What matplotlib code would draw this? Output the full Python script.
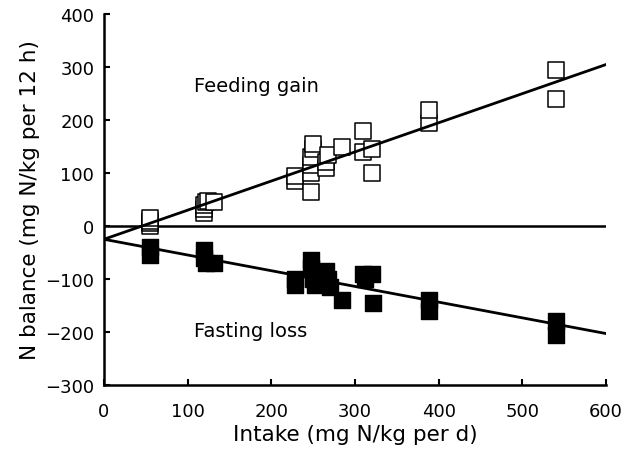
import matplotlib.pyplot as plt

plt.rcParams['font.family'] = ['DejaVu Sans']

# feeding gain (open squares)
gain_x = [55, 55, 55, 55, 120, 120, 120, 122, 124, 132,
          228, 228, 248, 248, 248, 248, 250, 250, 265, 265, 268,
          285, 310, 310, 320, 320, 388, 388, 540, 540]
gain_y = [0, 5, 10, 15, 25, 32, 40, 45, 48, 45,
          85, 95, 65, 100, 115, 130, 145, 155, 110, 120, 135,
          150, 140, 180, 100, 145, 195, 220, 240, 295]

# fasting loss (filled squares)
loss_x = [55, 55, 120, 120, 122, 132,
          228, 228, 248, 248, 250, 252, 265, 268, 270,
          285, 310, 312, 320, 322, 388, 388, 540, 540]
loss_y = [-40, -55, -45, -60, -70, -70,
          -100, -112, -65, -80, -100, -112, -85, -100, -115,
          -140, -90, -100, -90, -145, -140, -160, -180, -205]

# regression lines
fit_x = [0, 600]
gain_fit = [-25, 305]
loss_fit = [-25, -203]

fig = plt.figure(figsize=(6.3, 4.6), dpi=100)
ax = fig.add_axes([0.165, 0.161, 0.797, 0.806])

ax.plot(fit_x, [0, 0], color='black', linewidth=1.8, zorder=1)
ax.plot(fit_x, gain_fit, color='black', linewidth=2, zorder=3)
ax.plot(fit_x, loss_fit, color='black', linewidth=2, zorder=3)

ax.scatter(gain_x, gain_y, marker='s', s=120, facecolors='white',
           edgecolors='black', linewidths=1.1, zorder=2)
ax.scatter(loss_x, loss_y, marker='s', s=120, color='black', zorder=2)

ax.text(108, 266, 'Feeding gain', fontsize=14, va='center')
ax.text(108, -197, 'Fasting loss', fontsize=14, va='center')

ax.set_xlim(0, 600)
ax.set_ylim(-300, 400)
ax.set_xticks(range(0, 601, 100))
ax.set_yticks(range(-300, 401, 100))
ax.set_yticklabels(['\u2212300', '\u2212200', '\u2212100', '0', '100', '200', '300', '400'])
ax.tick_params(direction='in', length=4, width=1.5, labelsize=13)
ax.tick_params(axis='x', pad=12)
ax.tick_params(axis='y', pad=7)
ax.spines['top'].set_visible(False)
ax.spines['right'].set_visible(False)
ax.spines['left'].set_linewidth(1.8)
ax.spines['bottom'].set_linewidth(1.8)

ax.set_xlabel('Intake (mg N/kg per d)', fontsize=15.5, labelpad=3)
ax.set_ylabel('N balance (mg N/kg per 12 h)', fontsize=15.5, labelpad=4)

fig.savefig('out.png')
